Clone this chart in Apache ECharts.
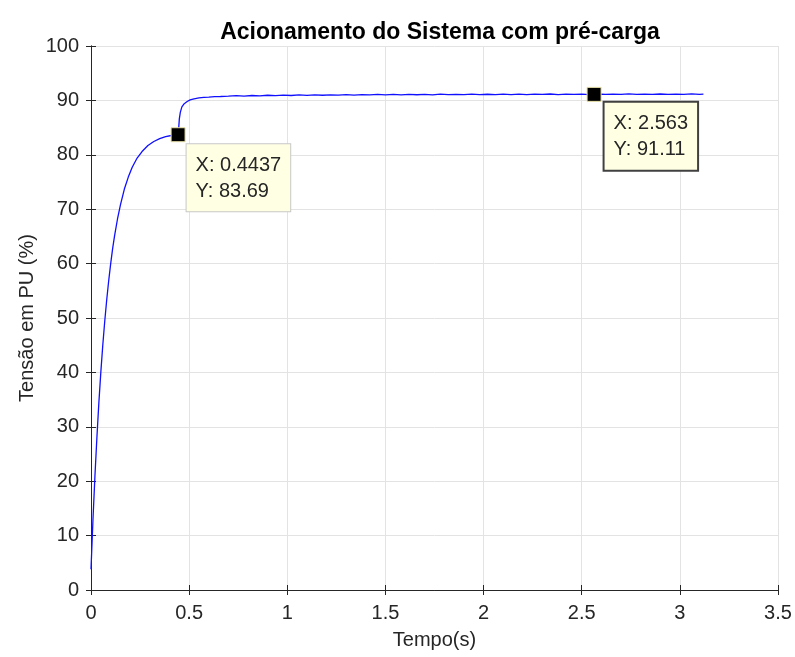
<!DOCTYPE html>
<html>
<head>
<meta charset="utf-8">
<script src="https://cdn.jsdelivr.net/npm/echarts@6/dist/echarts.min.js"></script>
<style>
  html, body { margin: 0; padding: 0; background: #ffffff; }
  #chart { width: 795px; height: 657px; }
</style>
</head>
<body>
<div id="chart"></div>
<script>
// Measured response: time (s) and voltage in per-unit (%)
const tempo = [
  0, 0.01, 0.02, 0.03, 0.04, 0.05, 0.06, 0.07, 0.08, 0.09, 0.10, 0.11, 0.12, 0.135,
  0.15, 0.17, 0.19, 0.21, 0.235, 0.26, 0.29, 0.32, 0.35, 0.38, 0.41, 0.4437, 0.447,
  0.45, 0.455, 0.463, 0.475, 0.49, 0.505, 0.525, 0.55, 0.575, 0.6, 0.63, 0.66,
  0.70, 0.74, 0.78, 0.82, 0.86, 0.90, 0.94, 0.98, 1.02, 1.06, 1.10, 1.14, 1.18, 1.22,
  1.26, 1.30, 1.34, 1.38, 1.42, 1.46, 1.50, 1.54, 1.58, 1.62, 1.66, 1.70, 1.74, 1.78,
  1.82, 1.86, 1.90, 1.94, 1.98, 2.02, 2.06, 2.10, 2.14, 2.18, 2.22, 2.26, 2.30, 2.34,
  2.38, 2.42, 2.46, 2.50, 2.54, 2.563, 2.58, 2.62, 2.66, 2.70, 2.74, 2.78, 2.82, 2.86,
  2.90, 2.94, 2.98, 3.02, 3.06, 3.10, 3.12
];
const tensao = [
  3.8, 12.9, 20.9, 28.0, 34.4, 40.0, 45.0, 49.4, 53.3, 56.8, 59.9, 62.7, 65.1, 68.2,
  70.8, 73.7, 75.9, 77.7, 79.4, 80.6, 81.7, 82.45, 82.98, 83.35, 83.55, 83.69, 85,
  86.6, 87.8, 88.8, 89.4, 89.8, 90.1, 90.3, 90.45, 90.55, 90.6, 90.68, 90.72,
  90.78, 90.86, 90.79, 90.9, 90.82, 90.95, 90.86, 90.97, 90.9, 91.0, 90.93, 91.03, 90.95, 91.02,
  90.96, 91.07, 90.98, 91.06, 91.0, 91.1, 91.01, 91.09, 91.03, 91.12, 91.04, 91.1, 91.03, 91.14,
  91.05, 91.12, 91.06, 91.16, 91.07, 91.13, 91.06, 91.15, 91.08, 91.17, 91.07, 91.14, 91.09, 91.18,
  91.08, 91.15, 91.1, 91.17, 91.08, 91.11, 91.18, 91.09, 91.15, 91.1, 91.19, 91.09, 91.16, 91.1,
  91.18, 91.09, 91.17, 91.1, 91.19, 91.11, 91.15
];

// Data tips marking two points of the curve
const dicasX = [0.4437, 2.563];
const dicasY = [83.69, 91.11];

const eixoCor = '#262626';
const gradeCor = '#e3e3e3';
const fonte = '"Liberation Sans", Arial, Helvetica, sans-serif';

const chart = echarts.init(document.getElementById('chart'), null, { renderer: 'canvas' });

const serieCurva = tempo.map((t, i) => [t, tensao[i]]);

const estiloDica = [
  { position: [16, 17], borderColor: '#c8c8c8', borderWidth: 1 },
  { position: [18, 16], borderColor: '#404040', borderWidth: 2 }
];

const dicas = dicasX.map((x, i) => ({
  value: [x, dicasY[i]],
  label: {
    show: true,
    position: estiloDica[i].position,
    align: 'left',
    verticalAlign: 'top',
    formatter: p => 'X: ' + p.value[0] + '\nY: ' + p.value[1],
    backgroundColor: '#ffffe4',
    borderColor: estiloDica[i].borderColor,
    borderWidth: estiloDica[i].borderWidth,
    padding: [8, 9, 7, 9],
    color: '#262626',
    fontFamily: fonte,
    fontSize: 20,
    lineHeight: 26
  }
}));

const eixoBase = {
  axisLine: { show: true, lineStyle: { color: eixoCor, width: 1 } },
  axisTick: { show: true, inside: true, length: 5, lineStyle: { color: eixoCor } }
};

chart.setOption({
  animation: false,
  backgroundColor: '#ffffff',
  title: {
    text: 'Acionamento do Sistema com pré-carga',
    left: 435,
    textAlign: 'center',
    top: 16,
    textStyle: { fontFamily: fonte, fontSize: 23, fontWeight: 'bold', color: '#000000' }
  },
  grid: { left: 91, right: 17, top: 46, bottom: 67 },
  xAxis: [
    Object.assign({}, eixoBase, {
      type: 'value', min: 0, max: 3.5, interval: 0.5, position: 'bottom',
      name: 'Tempo(s)', nameLocation: 'middle', nameGap: 40, nameMoveOverlap: false,
      nameTextStyle: { fontFamily: fonte, fontSize: 20, color: eixoCor },
      axisLabel: { fontFamily: fonte, fontSize: 20, color: eixoCor, margin: 13 },
      splitLine: { show: true, lineStyle: { color: gradeCor, width: 1 } }
    }),
    Object.assign({}, eixoBase, {
      type: 'value', min: 0, max: 3.5, interval: 0.5, position: 'top',
      axisLabel: { show: false }, splitLine: { show: false }
    })
  ],
  yAxis: [
    Object.assign({}, eixoBase, {
      type: 'value', min: 0, max: 100, interval: 10, position: 'left',
      name: 'Tensão em PU (%)', nameLocation: 'middle', nameGap: 54, nameMoveOverlap: false,
      nameTextStyle: { fontFamily: fonte, fontSize: 20, color: eixoCor },
      axisLabel: { fontFamily: fonte, fontSize: 20, color: eixoCor, margin: 12 },
      splitLine: { show: true, lineStyle: { color: gradeCor, width: 1 } }
    }),
    Object.assign({}, eixoBase, {
      type: 'value', min: 0, max: 100, interval: 10, position: 'right',
      axisLabel: { show: false }, splitLine: { show: false }
    })
  ],
  series: [
    {
      name: 'Tensão',
      type: 'line',
      data: serieCurva,
      showSymbol: false,
      smooth: false,
      lineStyle: { color: '#1010ff', width: 1.3 },
      z: 2
    },
    {
      name: 'Dicas',
      type: 'scatter',
      data: dicas,
      symbol: 'rect',
      symbolSize: 14,
      itemStyle: { color: '#000000', opacity: 1, borderColor: '#e9e2a8', borderWidth: 1 },
      z: 5
    }
  ]
});
</script>
</body>
</html>
